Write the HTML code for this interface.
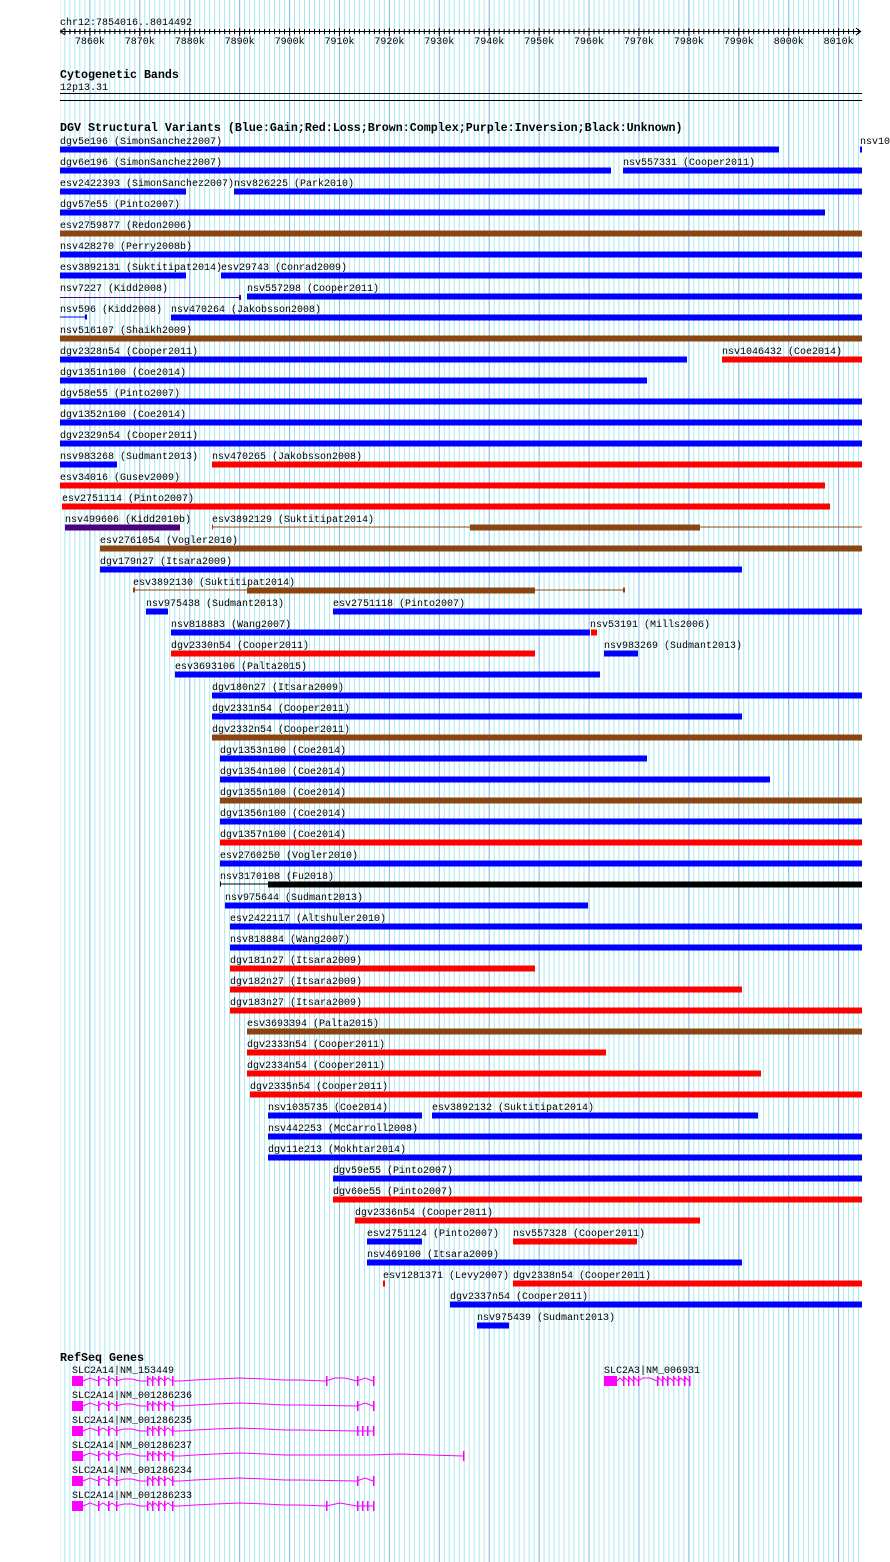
<!DOCTYPE html>
<html><head><meta charset="utf-8"><style>
html,body{margin:0;padding:0;background:#fff;}
svg{display:block;}
text{font-family:"Liberation Mono",monospace;font-size:10px;fill:#000;}
.b{font-weight:bold;font-size:11.67px;}
</style></head><body>
<svg width="890" height="1562" xmlns="http://www.w3.org/2000/svg">
<defs>
<pattern id="mn" patternUnits="userSpaceOnUse" x="64.4" y="0" width="4.9915" height="10"><rect x="0" y="0" width="1" height="10" fill="#a8e8f0"/></pattern>
<pattern id="mj" patternUnits="userSpaceOnUse" x="89.4" y="0" width="49.915" height="10"><rect x="0" y="0" width="1" height="10" fill="#88bce8"/></pattern>
</defs>
<rect x="60" y="0" width="802" height="1562" fill="url(#mn)"/>
<rect x="60" y="0" width="802" height="1562" fill="url(#mj)"/>

<!-- ruler -->
<text x="60" y="25">chr12:7854016..8014492</text>
<line x1="60" y1="31.5" x2="861" y2="31.5" stroke="#000"/>
<polyline points="65,28 60.5,31.5 65,35" fill="none" stroke="#000"/>
<polyline points="856,28 860.5,31.5 856,35" fill="none" stroke="#000"/>
<g stroke="#000">
<line x1="64.9" y1="29" x2="64.9" y2="34"/><line x1="69.9" y1="29" x2="69.9" y2="34"/><line x1="74.9" y1="29" x2="74.9" y2="34"/><line x1="79.9" y1="29" x2="79.9" y2="34"/><line x1="84.9" y1="29" x2="84.9" y2="34"/>
</g>
<rect x="64.4" y="28.5" width="795" height="6" fill="none"/>
<g id="ticks" stroke="#000" stroke-width="1">
<path d="M89.9 28V36M139.8 28V36M189.7 28V36M239.6 28V36M289.6 28V36M339.5 28V36M389.4 28V36M439.3 28V36M489.2 28V36M539.1 28V36M589.0 28V36M638.9 28V36M688.9 28V36M738.8 28V36M788.7 28V36M838.6 28V36"/>
</g>
<rect x="60" y="29" width="800" height="5" fill="url(#tk)"/>
<defs><pattern id="tk" patternUnits="userSpaceOnUse" x="64.4" y="29" width="4.9915" height="5"><rect x="0" y="0" width="1" height="5" fill="#000"/></pattern></defs>
<g text-anchor="middle">
<text x="89.9" y="44">7860k</text><text x="139.8" y="44">7870k</text><text x="189.7" y="44">7880k</text><text x="239.6" y="44">7890k</text><text x="289.6" y="44">7900k</text><text x="339.5" y="44">7910k</text><text x="389.4" y="44">7920k</text><text x="439.3" y="44">7930k</text><text x="489.2" y="44">7940k</text><text x="539.1" y="44">7950k</text><text x="589.0" y="44">7960k</text><text x="638.9" y="44">7970k</text><text x="688.9" y="44">7980k</text><text x="738.8" y="44">7990k</text><text x="788.7" y="44">8000k</text><text x="838.6" y="44">8010k</text>
</g>

<text class="b" x="60" y="78">Cytogenetic Bands</text>
<text x="60" y="90">12p13.31</text>
<rect x="60" y="93" width="802" height="1" fill="#000"/>
<rect x="60" y="100" width="802" height="1" fill="#000"/>

<text class="b" x="60" y="131">DGV Structural Variants (Blue:Gain;Red:Loss;Brown:Complex;Purple:Inversion;Black:Unknown)</text>

<g>
<!-- labels -->
<text x="60" y="144">dgv5e196 (SimonSanchez2007)</text><text x="860" y="144">nsv10</text>
<text x="60" y="165">dgv6e196 (SimonSanchez2007)</text><text x="623" y="165">nsv557331 (Cooper2011)</text>
<text x="60" y="186">esv2422393 (SimonSanchez2007)</text><text x="234" y="186">nsv826225 (Park2010)</text>
<text x="60" y="207">dgv57e55 (Pinto2007)</text>
<text x="60" y="228">esv2759877 (Redon2006)</text>
<text x="60" y="249">nsv428270 (Perry2008b)</text>
<text x="60" y="270">esv3892131 (Suktitipat2014)</text><text x="221" y="270">esv29743 (Conrad2009)</text>
<text x="60" y="291">nsv7227 (Kidd2008)</text><text x="247" y="291">nsv557298 (Cooper2011)</text>
<text x="60" y="312">nsv596 (Kidd2008)</text><text x="171" y="312">nsv470264 (Jakobsson2008)</text>
<text x="60" y="333">nsv516107 (Shaikh2009)</text>
<text x="60" y="354">dgv2328n54 (Cooper2011)</text><text x="722" y="354">nsv1046432 (Coe2014)</text>
<text x="60" y="375">dgv1351n100 (Coe2014)</text>
<text x="60" y="396">dgv58e55 (Pinto2007)</text>
<text x="60" y="417">dgv1352n100 (Coe2014)</text>
<text x="60" y="438">dgv2329n54 (Cooper2011)</text>
<text x="60" y="459">nsv983268 (Sudmant2013)</text><text x="212" y="459">nsv470265 (Jakobsson2008)</text>
<text x="60" y="480">esv34016 (Gusev2009)</text>
<text x="62" y="501">esv2751114 (Pinto2007)</text>
<text x="65" y="522">nsv499606 (Kidd2010b)</text><text x="212" y="522">esv3892129 (Suktitipat2014)</text>
<text x="100" y="543">esv2761054 (Vogler2010)</text>
<text x="100" y="564">dgv179n27 (Itsara2009)</text>
<text x="133" y="585">esv3892130 (Suktitipat2014)</text>
<text x="146" y="606">nsv975438 (Sudmant2013)</text><text x="333" y="606">esv2751118 (Pinto2007)</text>
<text x="171" y="627">nsv818883 (Wang2007)</text><text x="590" y="627">nsv53191 (Mills2006)</text>
<text x="171" y="648">dgv2330n54 (Cooper2011)</text><text x="604" y="648">nsv983269 (Sudmant2013)</text>
<text x="175" y="669">esv3693106 (Palta2015)</text>
<text x="212" y="690">dgv180n27 (Itsara2009)</text>
<text x="212" y="711">dgv2331n54 (Cooper2011)</text>
<text x="212" y="732">dgv2332n54 (Cooper2011)</text>
<text x="220" y="753">dgv1353n100 (Coe2014)</text>
<text x="220" y="774">dgv1354n100 (Coe2014)</text>
<text x="220" y="795">dgv1355n100 (Coe2014)</text>
<text x="220" y="816">dgv1356n100 (Coe2014)</text>
<text x="220" y="837">dgv1357n100 (Coe2014)</text>
<text x="220" y="858">esv2760250 (Vogler2010)</text>
<text x="220" y="879">nsv3170108 (Fu2018)</text>
<text x="225" y="900">nsv975644 (Sudmant2013)</text>
<text x="230" y="921">esv2422117 (Altshuler2010)</text>
<text x="230" y="942">nsv818884 (Wang2007)</text>
<text x="230" y="963">dgv181n27 (Itsara2009)</text>
<text x="230" y="984">dgv182n27 (Itsara2009)</text>
<text x="230" y="1005">dgv183n27 (Itsara2009)</text>
<text x="247" y="1026">esv3693394 (Palta2015)</text>
<text x="247" y="1047">dgv2333n54 (Cooper2011)</text>
<text x="247" y="1068">dgv2334n54 (Cooper2011)</text>
<text x="250" y="1089">dgv2335n54 (Cooper2011)</text>
<text x="268" y="1110">nsv1035735 (Coe2014)</text><text x="432" y="1110">esv3892132 (Suktitipat2014)</text>
<text x="268" y="1131">nsv442253 (McCarroll2008)</text>
<text x="268" y="1152">dgv11e213 (Mokhtar2014)</text>
<text x="333" y="1173">dgv59e55 (Pinto2007)</text>
<text x="333" y="1194">dgv60e55 (Pinto2007)</text>
<text x="355" y="1215">dgv2336n54 (Cooper2011)</text>
<text x="367" y="1236">esv2751124 (Pinto2007)</text><text x="513" y="1236">nsv557328 (Cooper2011)</text>
<text x="367" y="1257">nsv469100 (Itsara2009)</text>
<text x="383" y="1278">esv1281371 (Levy2007)</text><text x="513" y="1278">dgv2338n54 (Cooper2011)</text>
<text x="450" y="1299">dgv2337n54 (Cooper2011)</text>
<text x="477" y="1320">nsv975439 (Sudmant2013)</text>
</g>

<g>
<!-- bars: y = 146.5 + 21*i -->
<g fill="#0000ff">
<rect x="60" y="146.5" width="719" height="6"/><rect x="860" y="146.5" width="2" height="6"/>
<rect x="60" y="167.5" width="551" height="6"/><rect x="623" y="167.5" width="239" height="6"/>
<rect x="60" y="188.5" width="126" height="6"/><rect x="234" y="188.5" width="628" height="6"/>
<rect x="60" y="209.5" width="765" height="6"/>
<rect x="60" y="251.5" width="802" height="6"/>
<rect x="60" y="272.5" width="126" height="6"/><rect x="221" y="272.5" width="641" height="6"/>
<rect x="247" y="293.5" width="615" height="6"/>
<rect x="60" y="316.5" width="26" height="1"/><rect x="85" y="314.5" width="2" height="5"/><rect x="171" y="314.5" width="691" height="6"/>
<rect x="60" y="356.5" width="627" height="6"/>
<rect x="60" y="377.5" width="587" height="6"/>
<rect x="60" y="398.5" width="802" height="6"/>
<rect x="60" y="419.5" width="802" height="6"/>
<rect x="60" y="440.5" width="802" height="6"/>
<rect x="60" y="461.5" width="57" height="6"/>
<rect x="100" y="566.5" width="642" height="6"/>
<rect x="146" y="608.5" width="22" height="6"/><rect x="333" y="608.5" width="529" height="6"/>
<rect x="171" y="629.5" width="419" height="6"/>
<rect x="604" y="650.5" width="34" height="6"/>
<rect x="175" y="671.5" width="425" height="6"/>
<rect x="212" y="692.5" width="650" height="6"/>
<rect x="212" y="713.5" width="530" height="6"/>
<rect x="220" y="755.5" width="427" height="6"/>
<rect x="220" y="776.5" width="550" height="6"/>
<rect x="220" y="818.5" width="642" height="6"/>
<rect x="220" y="860.5" width="642" height="6"/>
<rect x="225" y="902.5" width="363" height="6"/>
<rect x="230" y="923.5" width="632" height="6"/>
<rect x="230" y="944.5" width="632" height="6"/>
<rect x="268" y="1112.5" width="154" height="6"/><rect x="432" y="1112.5" width="326" height="6"/>
<rect x="268" y="1133.5" width="594" height="6"/>
<rect x="268" y="1154.5" width="594" height="6"/>
<rect x="333" y="1175.5" width="529" height="6"/>
<rect x="367" y="1238.5" width="55" height="6"/>
<rect x="367" y="1259.5" width="375" height="6"/>
<rect x="450" y="1301.5" width="412" height="6"/>
<rect x="477" y="1322.5" width="32" height="6"/>
</g>
<g fill="#ff0000">
<rect x="722" y="356.5" width="140" height="6"/>
<rect x="212" y="461.5" width="650" height="6"/>
<rect x="60" y="482.5" width="765" height="6"/>
<rect x="62" y="503.5" width="768" height="6"/>
<rect x="591" y="629.5" width="6" height="6"/>
<rect x="171" y="650.5" width="364" height="6"/>
<rect x="220" y="839.5" width="642" height="6"/>
<rect x="230" y="965.5" width="305" height="6"/>
<rect x="230" y="986.5" width="512" height="6"/>
<rect x="230" y="1007.5" width="632" height="6"/>
<rect x="247" y="1049.5" width="359" height="6"/>
<rect x="247" y="1070.5" width="514" height="6"/>
<rect x="250" y="1091.5" width="612" height="6"/>
<rect x="333" y="1196.5" width="529" height="6"/>
<rect x="355" y="1217.5" width="345" height="6"/>
<rect x="513" y="1238.5" width="124" height="6"/>
<rect x="383" y="1280.5" width="2" height="6"/><rect x="513" y="1280.5" width="349" height="6"/>
</g>
<g fill="#8b4513">
<rect x="60" y="230.5" width="802" height="6"/>
<rect x="60" y="335.5" width="802" height="6"/>
<rect x="212" y="526.5" width="650" height="1"/><rect x="212" y="524.5" width="1" height="5"/><rect x="470" y="524.5" width="230" height="6"/>
<rect x="100" y="545.5" width="762" height="6"/>
<rect x="133" y="589.5" width="491" height="1"/><rect x="133" y="587.5" width="2" height="5"/><rect x="623" y="587.5" width="2" height="5"/><rect x="247" y="587.5" width="288" height="6"/>
<rect x="212" y="734.5" width="650" height="6"/>
<rect x="220" y="797.5" width="642" height="6"/>
<rect x="247" y="1028.5" width="615" height="6"/>
</g>
<g fill="#4b0082">
<rect x="60" y="297" width="180" height="1"/><rect x="239" y="295" width="2" height="5"/>
<rect x="65" y="524.5" width="115" height="6"/>
</g>
<g fill="#000">
<rect x="220" y="883.5" width="48" height="1"/><rect x="220" y="881.5" width="1" height="5"/><rect x="268" y="881.5" width="594" height="6"/>
</g>
</g>

<!-- RefSeq -->
<text class="b" x="60" y="1361">RefSeq Genes</text>
<text x="72" y="1373">SLC2A14|NM_153449</text>
<text x="72" y="1398">SLC2A14|NM_001286236</text>
<text x="72" y="1423">SLC2A14|NM_001286235</text>
<text x="72" y="1448">SLC2A14|NM_001286237</text>
<text x="72" y="1473">SLC2A14|NM_001286234</text>
<text x="72" y="1498">SLC2A14|NM_001286233</text>
<text x="604" y="1373">SLC2A3|NM_006931</text>

<defs>
<g id="early" fill="#ff00ff">
<rect x="72" y="-5" width="11" height="10"/>
<rect x="98" y="-5" width="1.5" height="10"/><rect x="108" y="-5" width="1.5" height="10"/><rect x="116" y="-5" width="1.5" height="10"/>
<rect x="147" y="-5" width="1.5" height="10"/><rect x="152" y="-5" width="1.5" height="10"/><rect x="158" y="-5" width="1.5" height="10"/><rect x="164" y="-5" width="1.5" height="10"/><rect x="172" y="-5" width="1.5" height="10"/>
<polyline fill="none" stroke="#ff00ff" points="83,0 90,-3 98,0 103,-3 108,0 112,-3 116,0 124,-2 132,-2 140,0 147,0 150,-3 152,0 155,-3 158,0 161,-3 164,0 168,-3 172,0 180,0 195,-1 215,-2 240,-3 265,-2 285,-1 300,-1"/>
</g>
</defs>
<g stroke="none">
<g transform="translate(0,1381)"><use href="#early"/><g fill="#ff00ff"><rect x="326" y="-5" width="1.5" height="10"/><rect x="357" y="-5" width="1.5" height="10"/><rect x="373" y="-5" width="1.5" height="10"/></g><polyline fill="none" stroke="#ff00ff" points="300,-1 326,0 335,-3 345,-3 357,0 365,-3 373,0"/></g>
<g transform="translate(0,1406)"><use href="#early"/><g fill="#ff00ff"><rect x="357" y="-5" width="1.5" height="10"/><rect x="373" y="-5" width="1.5" height="10"/></g><polyline fill="none" stroke="#ff00ff" points="300,-1 357,0 365,-3 373,0"/></g>
<g transform="translate(0,1431)"><use href="#early"/><g fill="#ff00ff"><rect x="357" y="-5" width="1.5" height="10"/><rect x="362" y="-5" width="1.5" height="10"/><rect x="367" y="-5" width="1.5" height="10"/><rect x="373" y="-5" width="1.5" height="10"/></g><polyline fill="none" stroke="#ff00ff" points="300,-1 357,0 373,0"/></g>
<g transform="translate(0,1456)"><use href="#early"/><g fill="#ff00ff"><rect x="463" y="-5" width="1.5" height="10"/></g><polyline fill="none" stroke="#ff00ff" points="300,-1 340,-1 370,-1 400,-2 430,-1 463,0"/></g>
<g transform="translate(0,1481)"><use href="#early"/><g fill="#ff00ff"><rect x="357" y="-5" width="1.5" height="10"/><rect x="373" y="-5" width="1.5" height="10"/></g><polyline fill="none" stroke="#ff00ff" points="300,-1 357,0 365,-3 373,0"/></g>
<g transform="translate(0,1506)"><use href="#early"/><g fill="#ff00ff"><rect x="326" y="-5" width="1.5" height="10"/><rect x="357" y="-5" width="1.5" height="10"/><rect x="362" y="-5" width="1.5" height="10"/><rect x="367" y="-5" width="1.5" height="10"/><rect x="373" y="-5" width="1.5" height="10"/></g><polyline fill="none" stroke="#ff00ff" points="300,-1 326,0 340,-3 357,0 373,0"/></g>
<g transform="translate(0,1381)" fill="#ff00ff">
<rect x="604" y="-5" width="13" height="10"/>
<rect x="623" y="-5" width="1.5" height="10"/><rect x="628" y="-5" width="1.5" height="10"/><rect x="633" y="-5" width="1.5" height="10"/><rect x="638" y="-5" width="1.5" height="10"/>
<rect x="657" y="-5" width="1.5" height="10"/><rect x="662" y="-5" width="1.5" height="10"/><rect x="667" y="-5" width="1.5" height="10"/>
<rect x="673" y="-5" width="1.5" height="10"/><rect x="678" y="-5" width="1.5" height="10"/><rect x="684" y="-5" width="1.5" height="10"/><rect x="689" y="-5" width="1.5" height="10"/>
<polyline fill="none" stroke="#ff00ff" points="617,0 620,-3 623,0 625,-3 628,0 630,-3 633,0 635,-3 638,0 643,-3 650,-3 657,0 659,-3 662,0 664,-3 667,0 670,-3 673,0 675,-3 678,0 681,-3 684,0 686,-3 689,0"/>
</g>
</g>
</svg>
</body></html>
